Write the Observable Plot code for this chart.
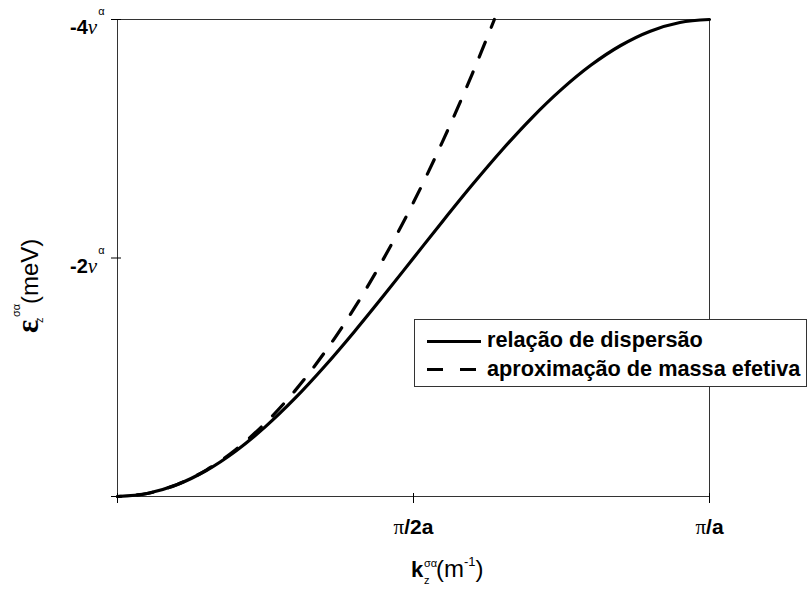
<!DOCTYPE html>
<html>
<head>
<meta charset="utf-8">
<script src="https://cdn.jsdelivr.net/npm/d3@7"></script>
<script src="https://cdn.jsdelivr.net/npm/@observablehq/plot@0.6"></script>
<style>
  body { margin: 0; background: #fff; }
  #chart { width: 809px; height: 594px; }
</style>
</head>
<body>
<div id="chart"></div>
<script>
// Wave vector k_z as a fraction of π/a, energy ε_z in units of ν^α (negative downwards in energy).
const kDispersion = [0, 0.05, 0.10, 0.15, 0.20, 0.25, 0.30, 0.35, 0.40, 0.45, 0.50,
                     0.55, 0.60, 0.65, 0.70, 0.75, 0.80, 0.85, 0.90, 0.95, 1.00];
const eDispersion = [0, -0.025, -0.098, -0.218, -0.382, -0.586, -0.824, -1.092, -1.382, -1.687, -2.000,
                     -2.313, -2.618, -2.908, -3.176, -3.414, -3.618, -3.782, -3.902, -3.975, -4.000];

const kEffective = [0, 0.05, 0.10, 0.15, 0.20, 0.25, 0.30, 0.35, 0.40, 0.45, 0.50, 0.55, 0.60, 0.6366];
const eEffective = [0, -0.025, -0.099, -0.222, -0.395, -0.617, -0.888, -1.209, -1.579, -1.999, -2.467, -2.986, -3.553, -4.000];

const seriesNames = ["relação de dispersão", "aproximação de massa efetiva"];

const yTicks = [0, -2, -4];
const yTickLabels = ["", "-2", "-4"];
const xTicks = [0, 0.5, 1];
const xTickLabels = ["", "π/2a", "π/a"];

const dispersion = kDispersion.map((k, i) => ({k, e: eDispersion[i]}));
const effective = kEffective.map((k, i) => ({k, e: eEffective[i]}));

const svg = Plot.plot({
  width: 809,
  height: 594,
  marginLeft: 117,
  marginRight: 100,
  marginTop: 19,
  marginBottom: 98,
  style: {fontFamily: "'Liberation Sans', Arial, sans-serif", background: "#fff", color: "#000", overflow: "visible"},
  x: {domain: [0, 1], label: null},
  y: {domain: [0, -4], label: null},
  marks: [
    Plot.frame({stroke: "#333", strokeWidth: 1}),
    // tick marks crossing the axes
    Plot.axisX({ticks: xTicks, tickSize: 10, dy: -3, tickFormat: () => "", label: null, stroke: "#000"}),
    Plot.axisY({ticks: yTicks, tickSize: 10, dx: 4, tickFormat: () => "", label: null, stroke: "#000"}),
    // tick labels
    Plot.axisX({ticks: xTicks, tickSize: 0, tickPadding: 23, fontSize: 21,
                tickFormat: d => xTickLabels[xTicks.indexOf(d)], label: null}),
    Plot.axisY({ticks: yTicks, tickSize: 0, tickPadding: 13, fontSize: 20,
                tickFormat: d => yTickLabels[yTicks.indexOf(d)], label: null}),
    Plot.line(dispersion, {x: "k", y: "e", stroke: "#000", strokeWidth: 3.2, curve: "catmull-rom"}),
    Plot.line(effective, {x: "k", y: "e", stroke: "#000", strokeWidth: 3.2, strokeDasharray: "16,16",
                          curve: "catmull-rom"})
  ]
});

document.getElementById("chart").append(svg);
const root = d3.select(svg);

// Shift the dash pattern so the dashed curve finishes on a dash at the top edge
root.selectAll('g[stroke-dasharray] path').each(function () {
  const L = this.getTotalLength ? this.getTotalLength() : NaN;
  if (!isFinite(L) || L <= 0) return;
  const off = ((16 - (L % 32)) + 32) % 32;
  this.setAttribute("stroke-dashoffset", String(-off));
});

// Tick labels: ν^α on the energy axis, π in a serif face on the wave-vector axis
root.selectAll('g[aria-label="y-axis tick label"] text').each(function () {
  const t = d3.select(this);
  const s = t.text();
  if (!s) return;
  t.text(null).attr("dy", "0.42em");
  t.append("tspan").attr("font-weight", "bold").text(s);
  t.append("tspan").attr("font-family", "'Liberation Serif', serif").attr("font-style", "italic").attr("font-size", 21).text("ν");
  t.append("tspan").attr("font-size", 11).attr("dy", -19).attr("dx", 1).text("α");
});
root.selectAll('g[aria-label="x-axis tick label"] text').each(function () {
  const t = d3.select(this);
  const s = t.text();
  if (!s) return;
  t.text(null);
  t.append("tspan").attr("font-family", "'Liberation Serif', serif").text(s.slice(0, 1));
  t.append("tspan").attr("font-weight", "bold").text(s.slice(1));
});

// Energy axis title: ε_z^σα (meV)
const yt = root.append("g").attr("transform", "translate(38,332) rotate(-90)")
  .attr("fill", "#000").attr("text-anchor", "start");
yt.append("text").attr("x", -1).attr("y", 0).attr("font-family", "'Liberation Serif', serif")
  .attr("font-weight", "bold").attr("font-size", 31).text("ε");
yt.append("text").attr("x", 15).attr("y", -18).attr("font-size", 11).text("σα");
yt.append("text").attr("x", 9).attr("y", 5).attr("font-size", 11).text("z");
yt.append("text").attr("x", 28).attr("y", 0).attr("font-size", 24).text("(meV)");

// Wave-vector axis title: k_z^σα (m^-1)
const xt = root.append("g").attr("fill", "#000").attr("text-anchor", "start");
xt.append("text").attr("x", 411).attr("y", 577).attr("font-weight", "bold").attr("font-size", 22).text("k");
xt.append("text").attr("x", 424).attr("y", 567).attr("font-size", 11).text("σα");
xt.append("text").attr("x", 424).attr("y", 584).attr("font-size", 11).text("z");
const xp = xt.append("text").attr("x", 436).attr("y", 577).attr("font-size", 24);
xp.append("tspan").text("(m");
xp.append("tspan").attr("font-size", 13).attr("dy", -11).text("-1");
xp.append("tspan").attr("dy", 11).text(")");

// Legend
const lg = root.append("g").attr("text-anchor", "start");
lg.append("rect").attr("x", 414.5).attr("y", 319.5).attr("width", 392).attr("height", 67)
  .attr("fill", "#fff").attr("stroke", "#333").attr("stroke-width", 1);
lg.append("line").attr("x1", 427).attr("x2", 481).attr("y1", 341.5).attr("y2", 341.5)
  .attr("stroke", "#000").attr("stroke-width", 3.2);
lg.append("line").attr("x1", 427).attr("x2", 477).attr("y1", 369.5).attr("y2", 369.5)
  .attr("stroke", "#000").attr("stroke-width", 3.2).attr("stroke-dasharray", "16,17");
lg.selectAll("text.entry").data(seriesNames).join("text")
  .attr("class", "entry")
  .attr("x", 487).attr("y", (d, i) => 347 + i * 29)
  .attr("font-weight", "bold").attr("font-size", 21.7).attr("fill", "#000")
  .text(d => d);
</script>
</body>
</html>
